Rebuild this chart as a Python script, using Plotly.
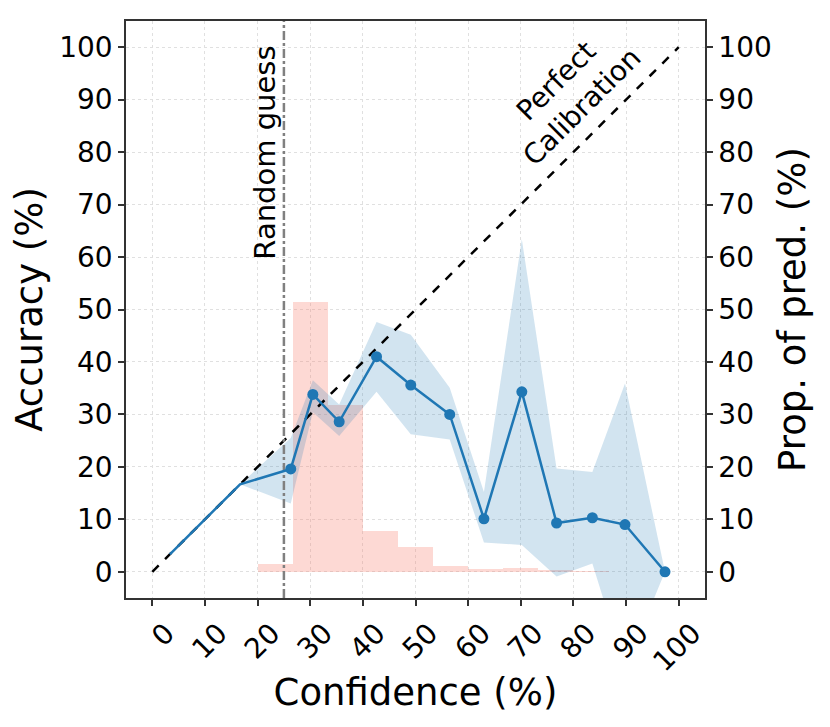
import plotly.graph_objects as go

# ---- data ----
conf = [3.33, 10.0, 16.67, 26.3, 30.5, 35.5, 42.6, 49.1, 56.5, 63.0, 70.2, 76.8, 83.6, 89.8, 97.4]
acc = [3.33, 10.0, 16.67, 19.6, 33.8, 28.6, 41.0, 35.6, 30.0, 10.1, 34.3, 9.3, 10.3, 9.0, 0.0]
marker_start = 3  # first bin with predictions

band_conf = [16.67, 26.3, 30.5, 35.5, 42.6, 49.1, 56.5, 63.0, 70.2, 76.8, 83.6, 89.8, 97.4]
band_upper = [16.67, 25.5, 36.5, 31.9, 47.6, 45.2, 35.1, 15.2, 63.4, 19.7, 19.0, 35.9, 0.0]
band_lower = [16.67, 13.0, 30.4, 25.9, 34.3, 26.2, 25.2, 5.6, 5.1, -0.9, 1.6, -18.5, 0.0]

bin_left = [20.0, 26.67, 33.33, 40.0, 46.67, 53.33, 60.0, 66.67, 73.33, 80.0]
bin_width = 6.667
prop_pred = [1.5, 51.5, 31.7, 7.7, 4.8, 1.1, 0.6, 0.7, 0.3, 0.2]

ticks = [0, 10, 20, 30, 40, 50, 60, 70, 80, 90, 100]
random_guess = 25

FONT = "DejaVu Sans"
BLUE = "#1f77b4"

fig = go.Figure()

# histogram of predictions
fig.add_trace(go.Bar(
    x=[l + bin_width / 2 for l in bin_left], y=prop_pred, width=bin_width,
    marker=dict(color="rgba(250,128,114,0.3)", line=dict(width=0)),
    showlegend=False, hoverinfo="skip"))

# confidence band
fig.add_trace(go.Scatter(
    x=band_conf + band_conf[::-1], y=band_upper + band_lower[::-1],
    fill="toself", fillcolor="rgba(31,119,180,0.2)", line=dict(width=0),
    mode="lines", showlegend=False, hoverinfo="skip"))

# perfect calibration diagonal
fig.add_trace(go.Scatter(
    x=[0, 100], y=[0, 100], mode="lines",
    line=dict(color="black", width=2.5, dash="dash"), showlegend=False))

# random guess vertical line
fig.add_trace(go.Scatter(
    x=[random_guess, random_guess], y=[-5, 105], mode="lines",
    line=dict(color="gray", width=2.5, dash="dashdot"), showlegend=False))

# accuracy line
fig.add_trace(go.Scatter(
    x=conf, y=acc, mode="lines",
    line=dict(color=BLUE, width=2.5), showlegend=False))
fig.add_trace(go.Scatter(
    x=conf[marker_start:], y=acc[marker_start:], mode="markers",
    marker=dict(color=BLUE, size=11), showlegend=False))

# dummy trace for the right axis
fig.add_trace(go.Scatter(x=[None], y=[None], yaxis="y2", showlegend=False, hoverinfo="skip"))

axis_common = dict(
    range=[-5, 105], tickvals=ticks, ticks="outside", ticklen=6, tickwidth=1.5,
    tickcolor="#333", showline=True, linecolor="#333", linewidth=1.5,
    tickfont=dict(family=FONT, size=28, color="black"), zeroline=False,
)

fig.update_layout(
    width=830, height=727,
    margin=dict(l=118, r=133, t=13, b=137),
    plot_bgcolor="white", paper_bgcolor="white",
    font=dict(family=FONT, color="black"),
    bargap=0,
    xaxis=dict(**axis_common, mirror=True, tickangle=-45, ticklabelshift=14,
               showgrid=True, gridcolor="#e0e0e0", griddash="dot", gridwidth=1,
               title=dict(text="Confidence (%)", font=dict(size=37), standoff=2)),
    yaxis=dict(**axis_common, showgrid=True, gridcolor="#e0e0e0", griddash="dot", gridwidth=1,
               title=dict(text="Accuracy (%)", font=dict(size=37), standoff=8)),
    yaxis2=dict(**axis_common, overlaying="y", side="right", showgrid=False,
                title=dict(text="Prop. of pred. (%)", font=dict(size=37), standoff=8)),
)

fig.add_annotation(x=21.5, y=80, xref="x", yref="y", text="Random guess",
                   textangle=-90, showarrow=False, font=dict(family=FONT, size=29))
fig.add_annotation(x=79.2, y=91.1, xref="x", yref="y", text="Perfect<br>Calibration",
                   textangle=-45, showarrow=False, align="center",
                   font=dict(family=FONT, size=28))

fig.write_html("out.html")
